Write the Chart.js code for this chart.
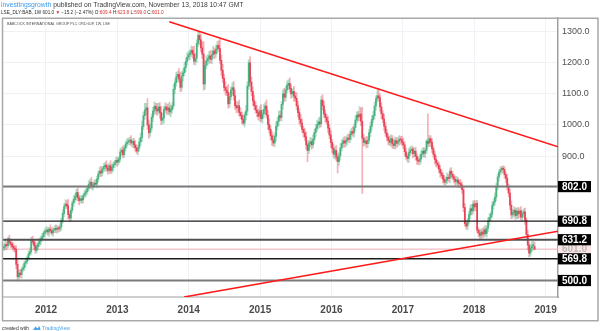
<!DOCTYPE html>
<html>
<head>
<meta charset="utf-8">
<script src="https://cdn.jsdelivr.net/npm/chart.js@4.4.0/dist/chart.umd.min.js"></script>
<style>
  html, body { margin: 0; padding: 0; background: #ffffff; }
  #wrap { position: relative; width: 600px; height: 331px; overflow: hidden; }
  canvas { position: absolute; left: 0; top: 0; }
</style>
</head>
<body>
<div id="wrap"><canvas id="c" width="600" height="331"></canvas></div>
<script>
// Weekly closing prices, Babcock International (LSE:BAB), late May 2011 -> Nov 2018
const closes = [
  608, 616, 612, 634, 622, 617, 610, 604, 600, 552,
  512, 524, 519, 536, 541, 556, 561, 573, 586, 593,
  629, 624, 613, 597, 609, 618, 627, 635, 641, 653,
  658, 662, 656, 665, 660, 653, 662, 667, 664, 669,
  666, 673, 693, 716, 738, 746, 741, 712, 701, 726,
  749, 761, 770, 783, 766, 757, 763, 759, 773, 781,
  786, 796, 809, 816, 804, 807, 813, 810, 826, 843,
  852, 846, 859, 866, 871, 861, 854, 869, 853, 864,
  873, 879, 886, 881, 891, 913, 919, 905, 926, 939,
  944, 949, 951, 942, 947, 936, 927, 916, 926, 946,
  960, 995, 1030, 1048, 1055, 1000, 975, 990, 1025, 1045,
  1060, 1052, 1045, 1058, 1040, 1015, 1022, 1050, 1058, 1048,
  1055, 1042, 1050, 1061, 1115, 1136, 1155, 1163, 1148, 1121,
  1158, 1168, 1185, 1205, 1218, 1226, 1232, 1240, 1228, 1205,
  1215, 1262, 1288, 1274, 1248, 1228, 1132, 1192, 1206, 1214,
  1222, 1211, 1226, 1238, 1229, 1243, 1256, 1246, 1208, 1176,
  1150, 1121, 1112, 1104, 1068, 1091, 1113, 1120, 1094, 1062,
  1055, 1062, 1040, 1030, 1018, 1006, 1032, 1045, 1125, 1200,
  1138, 1108, 1078, 1062, 1048, 1040, 1028, 1046, 1020, 1036,
  1050, 1061, 1032, 1002, 986, 965, 952, 942, 963, 996,
  1012, 1030, 1024, 1066, 1100, 1089, 1113, 1128, 1134, 1117,
  1100, 1108, 1093, 1086, 1062, 1040, 1018, 1006, 986, 975,
  962, 936, 918, 941, 946, 936, 953, 976, 990, 1001,
  1010, 1004, 1080, 1062, 1036, 1024, 1012, 990, 968, 944,
  925, 906, 918, 896, 882, 901, 926, 941, 949, 942,
  950, 958, 954, 969, 979, 974, 992, 1016, 1032, 1026,
  1035, 1012, 958, 944, 949, 940, 951, 976, 996, 1018,
  1030, 1061, 1084, 1094, 1088, 1058, 1036, 1019, 996, 974,
  961, 951, 944, 956, 939, 934, 950, 941, 947, 954,
  952, 944, 936, 914, 899, 893, 911, 918, 923, 908,
  916, 899, 887, 883, 891, 906, 916, 909, 918, 948,
  941, 956, 944, 924, 906, 889, 878, 871, 858, 846,
  838, 826, 816, 823, 832, 828, 851, 842, 833, 826,
  818, 823, 814, 812, 807, 792, 735, 683, 675, 691,
  712, 731, 724, 746, 737, 748, 662, 652, 645, 656,
  649, 663, 651, 668, 692, 703, 713, 741, 753, 768,
  801, 833, 849, 856, 861, 857, 840, 829, 801, 781,
  742, 711, 719, 726, 709, 723, 714, 724, 704, 715,
  721, 694, 648, 614, 588, 605, 611, 616.2, 601
];

// Distance from the top of each candle body to the week's high
const upperWicks = [
  10, 14, 8, 6, 12, 9, 7, 11, 8, 12,
  15, 9, 12, 8, 10, 7, 11, 6, 9, 12,
  10, 14, 8, 12, 9, 6, 10, 8, 11, 7,
  9, 12, 8, 6, 14, 10, 7, 9, 12, 8,
  6, 10, 8, 12, 9, 14, 11, 20, 10, 8,
  7, 12, 9, 10, 14, 8, 11, 9, 7, 10,
  9, 8, 12, 10, 15, 9, 8, 12, 10, 9,
  12, 15, 8, 10, 9, 14, 11, 8, 16, 10,
  9, 8, 12, 10, 7, 11, 9, 14, 8, 10,
  12, 9, 10, 15, 8, 11, 14, 10, 9, 12,
  14, 18, 12, 22, 15, 30, 16, 14, 10, 12,
  15, 10, 18, 12, 14, 20, 16, 11, 14, 10,
  12, 18, 14, 10, 16, 12, 14, 10, 18, 22,
  14, 12, 16, 10, 14, 12, 10, 14, 12, 25,
  16, 12, 12, 14, 18, 20, 40, 14, 16, 12,
  14, 18, 12, 16, 10, 14, 12, 15, 30, 18,
  20, 14, 18, 12, 26, 14, 10, 16, 20, 18,
  14, 12, 18, 16, 12, 14, 10, 18, 14, 10,
  20, 16, 14, 18, 12, 15, 10, 14, 20, 12,
  16, 12, 20, 15, 18, 12, 14, 16, 12, 14,
  12, 16, 14, 10, 14, 18, 12, 14, 12, 18,
  14, 10, 16, 12, 18, 14, 12, 16, 14, 10,
  14, 16, 12, 10, 14, 12, 16, 10, 12, 14,
  12, 16, 12, 18, 14, 12, 10, 16, 12, 14,
  10, 14, 12, 16, 12, 10, 14, 12, 10, 14,
  12, 10, 14, 12, 10, 16, 12, 14, 10, 12,
  25, 20, 45, 12, 10, 14, 12, 10, 14, 12,
  14, 12, 10, 18, 24, 12, 14, 10, 16, 12,
  12, 10, 14, 12, 10, 14, 12, 10, 14, 12,
  10, 12, 14, 10, 12, 8, 14, 12, 10, 8,
  10, 12, 8, 10, 14, 12, 10, 12, 8, 6,
  88, 10, 10, 12, 8, 10, 12, 8, 10, 12,
  10, 8, 12, 10, 14, 10, 8, 12, 10, 8,
  10, 12, 8, 10, 12, 8, 10, 12, 10, 8,
  10, 12, 14, 10, 12, 8, 10, 8, 12, 10,
  12, 10, 14, 8, 10, 12, 8, 12, 10, 14,
  12, 10, 8, 10, 6, 8, 10, 8, 12, 10,
  12, 14, 10, 12, 8, 10, 12, 10, 14, 10,
  10, 12, 8, 14, 10, 12, 14, 10, 14.4
];

// Distance from the bottom of each candle body to the week's low
const lowerWicks = [
  8, 10, 12, 6, 9, 11, 8, 10, 9, 14,
  14, 8, 10, 12, 7, 9, 11, 8, 10, 6,
  9, 7, 12, 10, 8, 11, 9, 12, 8, 10,
  12, 8, 10, 14, 9, 7, 11, 8, 10, 12,
  10, 8, 12, 9, 11, 7, 10, 14, 12, 9,
  8, 11, 9, 12, 10, 14, 8, 11, 9, 7,
  11, 9, 8, 12, 10, 14, 9, 8, 12, 10,
  9, 12, 10, 8, 14, 11, 12, 9, 10, 8,
  12, 10, 9, 14, 8, 10, 12, 11, 9, 10,
  10, 8, 12, 9, 14, 10, 11, 8, 12, 10,
  12, 14, 10, 12, 16, 14, 18, 12, 10, 14,
  12, 16, 14, 10, 18, 14, 12, 16, 10, 14,
  14, 10, 16, 12, 10, 14, 12, 16, 10, 14,
  12, 16, 10, 14, 12, 10, 16, 12, 14, 10,
  12, 14, 10, 16, 12, 14, 20, 18, 12, 14,
  16, 12, 14, 10, 16, 12, 14, 10, 12, 16,
  14, 12, 16, 10, 14, 12, 10, 16, 14, 12,
  16, 14, 12, 10, 14, 6, 12, 16, 14, 10,
  12, 14, 16, 12, 10, 14, 12, 16, 10, 14,
  12, 14, 10, 16, 12, 14, 18, 10, 12, 14,
  12, 14, 10, 12, 16, 14, 12, 10, 14, 12,
  14, 12, 16, 10, 12, 14, 16, 12, 10, 14,
  12, 14, 36, 10, 12, 14, 10, 12, 14, 10,
  14, 12, 10, 14, 12, 16, 10, 14, 12, 16,
  14, 12, 16, 10, 37, 12, 14, 10, 12, 14,
  12, 14, 10, 12, 16, 10, 14, 12, 10, 14,
  12, 14, 178, 12, 10, 14, 12, 10, 14, 12,
  10, 12, 14, 10, 12, 14, 16, 12, 14, 10,
  12, 14, 10, 12, 14, 10, 12, 14, 10, 12,
  14, 10, 12, 14, 10, 12, 14, 10, 12, 14,
  10, 12, 14, 10, 12, 14, 10, 12, 14, 10,
  12, 10, 14, 12, 10, 14, 12, 10, 12, 14,
  10, 12, 8, 10, 12, 10, 14, 12, 10, 12,
  12, 10, 14, 12, 10, 12, 14, 8, 10, 12,
  10, 12, 14, 10, 12, 14, 8, 12, 10, 14,
  12, 10, 8, 12, 10, 14, 12, 10, 12, 10,
  12, 10, 14, 10, 12, 10, 12, 14, 10, 12,
  14, 12, 10, 14, 12, 10, 14, 12, 10, 14,
  12, 14, 12, 16, 12, 10, 12, 14, 2
];

const firstOpen = 604;      // opening price of the first week shown
const lastOpen = 609.4;     // O of the current week (header)
const lastPrice = 601.0;    // C of the current week (header)

// Horizontal support / resistance levels
const levels = [802.0, 690.8, 631.2, 569.8, 500.0];

// Trend lines: [decimal year, price] end points
const resistanceLine = [[2013.727, 1332], [2019.174, 930]];
const supportLine = [[2013.933, 447], [2019.174, 658.5]];

// Axis ticks
const yearTicks = [2012, 2013, 2014, 2015, 2016, 2017, 2018, 2019];
const priceTicks = [500, 600, 700, 800, 900, 1000, 1100, 1200, 1300];

// Texts
const headerUser = 'investingsgrowth';
const headerRest = ' published on TradingView.com, November 13, 2018 10:47 GMT';
const symbolTitle = 'BABCOCK INTERNATIONAL GROUP PLC ORD 60P, 1W, LSE';

// ---------------------------------------------------------------------------
const X_MIN = 2011.3975, X_MAX = 2019.174;
const Y_MIN = 447, Y_MAX = 1344;
const FIRST_WEEK = 2011.41, WEEK = 7 / 365.25;

const UP = 'rgba(63,174,120,0.92)', DOWN = 'rgba(232,57,77,0.92)';
const UP_WICK = 'rgba(63,174,120,0.4)', DOWN_WICK = 'rgba(232,57,77,0.4)';
const FONT = 'Arial, "Liberation Sans", sans-serif';

const times = closes.map((_, i) => FIRST_WEEK + i * WEEK);
const opens = closes.map((c, i) => (i === 0 ? firstOpen : closes[i - 1]));
opens[opens.length - 1] = lastOpen;
const highs = closes.map((c, i) => Math.max(opens[i], c) + upperWicks[i]);
const lows = closes.map((c, i) => Math.min(opens[i], c) - lowerWicks[i]);
const rising = closes.map((c, i) => c >= opens[i]);

const levelStyle = {
  802.0: { color: '#7b7b7b', width: 2 },
  690.8: { color: '#1c1c1c', width: 1.4 },
  631.2: { color: '#505050', width: 2 },
  569.8: { color: '#1c1c1c', width: 1.4 },
  500.0: { color: '#7b7b7b', width: 2 }
};

const hLine = (v) => [{ x: X_MIN, y: v }, { x: X_MAX, y: v }];
const segment = (pts) => pts.map(([x, y]) => ({ x, y }));

const datasets = [
  {
    type: 'bar', label: 'wicks', order: 6, grouped: false, barThickness: 1,
    data: times.map((t, i) => ({ x: t, y: [lows[i], highs[i]] })),
    backgroundColor: rising.map(r => (r ? UP_WICK : DOWN_WICK))
  },
  {
    type: 'bar', label: 'bodies', order: 5, grouped: false, barThickness: 1.1, minBarLength: 1,
    data: times.map((t, i) => ({ x: t, y: [opens[i], closes[i]] })),
    backgroundColor: rising.map(r => (r ? UP : DOWN))
  },
  {
    type: 'line', label: 'last', order: 7, data: hLine(lastPrice),
    borderColor: '#f6b3b7', borderWidth: 1, pointRadius: 0
  },
  ...levels.map(v => ({
    type: 'line', label: 'level ' + v, order: 2, data: hLine(v),
    borderColor: levelStyle[v].color, borderWidth: levelStyle[v].width, pointRadius: 0
  })),
  {
    type: 'line', label: 'resistance', order: 1, data: segment(resistanceLine),
    borderColor: '#ff1a1a', borderWidth: 1.6, pointRadius: 0
  },
  {
    type: 'line', label: 'support', order: 1, data: segment(supportLine),
    borderColor: '#ff1a1a', borderWidth: 1.6, pointRadius: 0
  }
];

function fitSize(ctx, text, width, weight) {
  ctx.font = `${weight} 20px ${FONT}`;
  return 20 * width / ctx.measureText(text).width;
}

const decor = {
  id: 'decor',
  beforeDraw(chart) {
    const ctx = chart.ctx;
    ctx.save();
    ctx.fillStyle = '#ffffff';
    ctx.fillRect(0, 0, chart.width, chart.height);
    ctx.restore();
  },
  afterDraw(chart) {
    const ctx = chart.ctx;
    const y = chart.scales.y;
    const area = chart.chartArea;
    ctx.save();

    // price tags on the right axis
    const tag = (v, bg, fg) => {
      const py = y.getPixelForValue(v);
      ctx.fillStyle = bg;
      ctx.fillRect(area.right, py - 5.6, 33, 11.2);
      ctx.fillStyle = fg;
      ctx.font = `bold 10px ${FONT}`;
      ctx.textAlign = 'center';
      ctx.textBaseline = 'middle';
      ctx.fillText(v.toFixed(1), area.right + 16.5, py + 0.5);
    };
    tag(lastPrice, '#fbe4e5', '#b8b8b8');
    levels.forEach(v => tag(v, '#000000', '#ffffff'));

    // frame around the whole chart
    ctx.strokeStyle = '#a9a9a9';
    ctx.lineWidth = 1.5;
    ctx.strokeRect(2.5, 18.25, 595.5, 302.5);

    // symbol title inside the pane
    ctx.textAlign = 'left';
    ctx.textBaseline = 'middle';
    ctx.fillStyle = '#4a4a4a';
    ctx.font = `${fitSize(ctx, symbolTitle, 103, 'normal')}px ${FONT}`;
    ctx.fillText(symbolTitle, 7, 23.5);

    // header line 1
    const s1 = fitSize(ctx, headerUser + headerRest, 243, 'normal');
    ctx.font = `${s1}px ${FONT}`;
    ctx.fillStyle = '#3d9be9';
    ctx.fillText(headerUser, 1, 4.8);
    const wUser = ctx.measureText(headerUser).width;
    ctx.fillStyle = '#3b3b3b';
    ctx.fillText(headerRest, 1 + wUser, 4.8);

    // header line 2
    const parts = [
      ['LSE_DLY:BAB, 1W ', '#2b2b2b'], ['601.0 ', '#2b2b2b'], ['\u25BC ', '#d32f2f'],
      ['\u221215.2 (\u22122.47%) ', '#2b2b2b'],
      ['O:', '#2b2b2b'], ['609.4 ', '#d32f2f'], ['H:', '#2b2b2b'], ['623.8 ', '#d32f2f'],
      ['L:', '#2b2b2b'], ['599.0 ', '#d32f2f'], ['C:', '#2b2b2b'], ['601.0', '#d32f2f']
    ];
    const s2 = fitSize(ctx, parts.map(p => p[0]).join(''), 163, 'normal');
    ctx.font = `${s2}px ${FONT}`;
    let px = 1;
    parts.forEach(([t, c]) => {
      ctx.fillStyle = c;
      ctx.fillText(t, px, 12.6);
      px += ctx.measureText(t).width;
    });

    // footer
    const f1 = 'created with';
    ctx.font = `${fitSize(ctx, f1, 27, 'normal')}px ${FONT}`;
    ctx.fillStyle = '#333333';
    ctx.fillText(f1, 2, 328.5);
    ctx.fillStyle = '#4aa3ec';
    ctx.beginPath();
    ctx.moveTo(33, 330); ctx.lineTo(35.5, 326.5); ctx.lineTo(37.5, 328.5);
    ctx.lineTo(39.5, 326); ctx.lineTo(40.5, 330); ctx.closePath();
    ctx.fill();
    const f2 = 'TradingView';
    ctx.font = `${fitSize(ctx, f2, 28, 'normal')}px ${FONT}`;
    ctx.fillText(f2, 42, 328.5);

    ctx.restore();
  }
};

new Chart(document.getElementById('c'), {
  type: 'bar',
  data: { datasets },
  plugins: [decor],
  options: {
    responsive: false,
    animation: false,
    events: [],
    layout: { padding: { left: 3, top: 18, right: 0, bottom: 10 } },
    plugins: { legend: { display: false }, tooltip: { enabled: false } },
    scales: {
      x: {
        type: 'linear', min: X_MIN, max: X_MAX, offset: false,
        grid: { color: '#eef1f6', lineWidth: 1, drawTicks: false, offset: false },
        border: { display: true, color: '#cfcfcf', width: 2 },
        afterBuildTicks: s => { s.ticks = yearTicks.map(v => ({ value: v })); },
        afterFit: s => { s.height = 24; },
        ticks: {
          autoSkip: false, maxRotation: 0, padding: 7,
          color: '#4a4a4a', font: { family: FONT, size: 10, weight: 'bold' },
          callback: v => String(v)
        }
      },
      y: {
        type: 'linear', position: 'right', min: Y_MIN, max: Y_MAX,
        grid: { color: '#eef1f6', lineWidth: 1, drawTicks: false },
        border: { display: true, color: '#a0a0a0', width: 1.5 },
        afterBuildTicks: s => { s.ticks = priceTicks.map(v => ({ value: v })); },
        afterFit: s => { s.width = 42; },
        ticks: {
          autoSkip: false, padding: 4,
          color: '#505050', font: { family: FONT, size: 9 },
          callback: v => (v >= 900 ? v.toFixed(1) : '')
        }
      }
    }
  }
});
</script>
</body>
</html>
